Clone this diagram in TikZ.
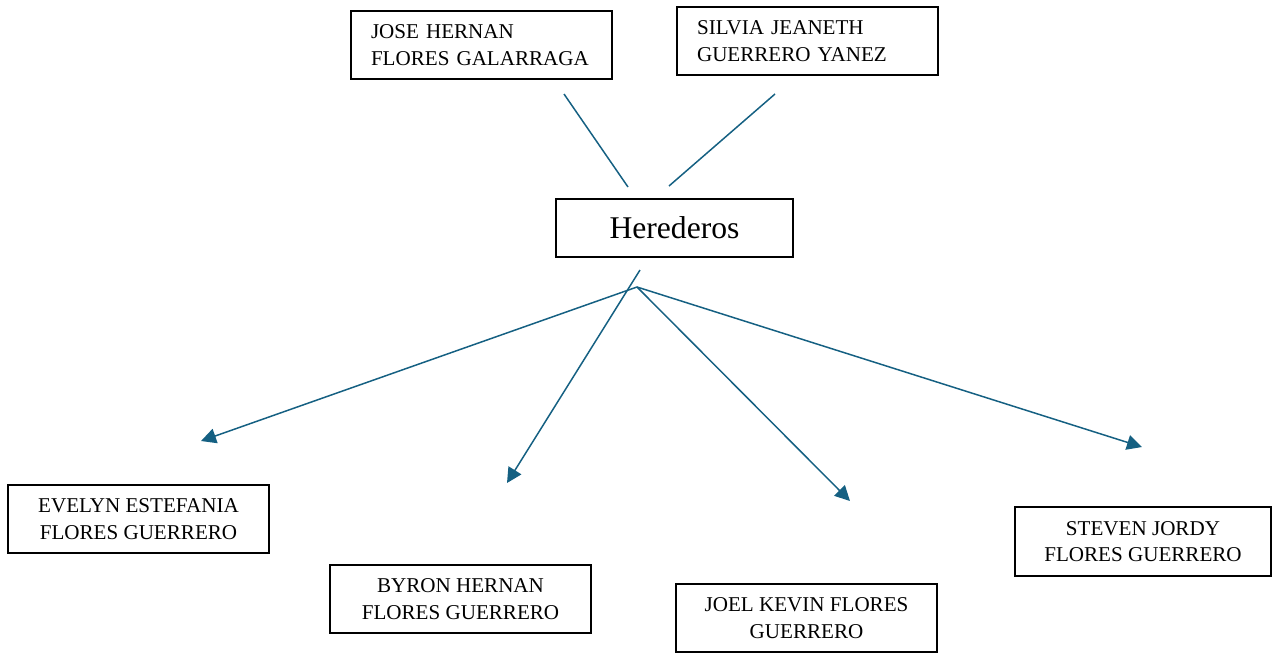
\documentclass[tikz,border=0pt]{standalone}
\usepackage{fontspec}
\setmainfont{Liberation Serif}
\usetikzlibrary{arrows.meta}
\definecolor{linkblue}{HTML}{156082}

\begin{document}
\begin{tikzpicture}
		[
			x=0.02cm, y=-0.02cm,
			box/.style = {rectangle, draw=black, line width=0.8pt, fill=none, minimum width=5.22cm, minimum height=1.36cm, align=center, font=\fontsize{12}{15.2}\selectfont},
			lbox/.style = {box, align=left, text width=4.42cm, inner xsep=0.4cm},
			link/.style = {draw=linkblue, line width=0.85pt},
			arr/.style = {link, -{Triangle[length=0.3cm, width=0.3cm]}},
		]
		\useasboundingbox (0,0) rectangle (1272,653);

		% parents
		\node[lbox] (jose) 	at ( 481.5,  45 ) {JOSE HERNAN\\FLORES GALARRAGA};
		\node[lbox] (silvia) 	at ( 807.5,  41 ) {SILVIA JEANETH\\GUERRERO YANEZ};

		% centre
		\node[box, minimum width=4.74cm, minimum height=1.16cm, font=\fontsize{18}{20}\selectfont] (herederos) at ( 674.5, 228 ) {Herederos};

		% children
		\node[box] (evelyn) 	at ( 138.5, 519 ) {EVELYN ESTEFANIA\\FLORES GUERRERO};
		\node[box] (byron) 	at ( 460.5, 599 ) {BYRON HERNAN\\FLORES GUERRERO};
		\node[box] (joel) 	at ( 806.5, 618 ) {JOEL KEVIN FLORES\\GUERRERO};
		\node[box, minimum width=5.12cm, minimum height=1.38cm] (steven) at ( 1143, 541.5 ) {STEVEN JORDY\\FLORES GUERRERO};

		% free ends of the lines
		\coordinate (jose-out) 	at ( 564,  94 );
		\coordinate (jose-in) 	at ( 628, 187 );
		\coordinate (silvia-out) at ( 775,  94 );
		\coordinate (silvia-in) 	at ( 669, 186 );
		\coordinate (split) 	at ( 637, 287 );
		\coordinate (byron-out) 	at ( 640, 270 );
		\coordinate (evelyn-in) 	at ( 201, 441 );
		\coordinate (byron-in) 	at ( 507, 483 );
		\coordinate (joel-in) 	at ( 850, 501 );
		\coordinate (steven-in) 	at ( 1142, 447 );

		\draw[link] (jose-out) -- (jose-in);
		\draw[link] (silvia-out) -- (silvia-in);
		\draw[arr] (byron-out) -- (byron-in);

		\foreach \to in {evelyn-in,joel-in,steven-in}
		\draw[arr] (split) -- (\to);

		\end{tikzpicture}
\end{document}
